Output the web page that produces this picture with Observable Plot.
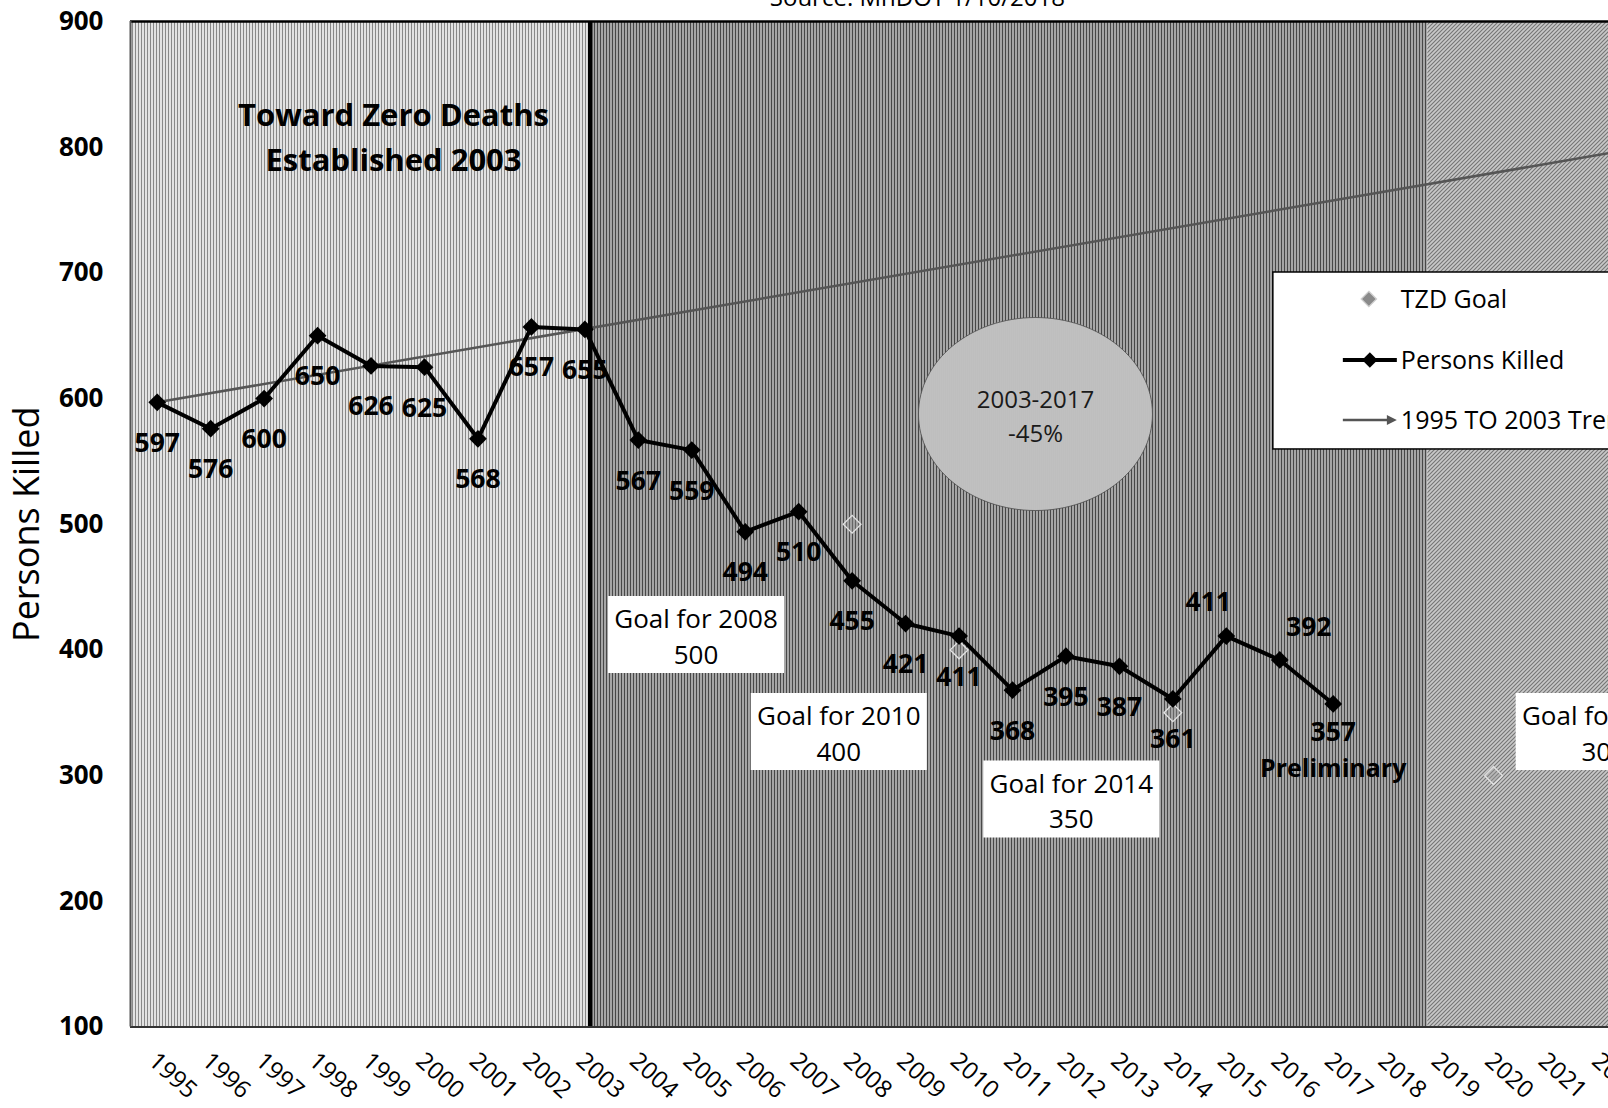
<!DOCTYPE html>
<html><head><meta charset="utf-8">
<script src="https://cdn.jsdelivr.net/npm/d3@7"></script>
<script src="https://cdn.jsdelivr.net/npm/@observablehq/plot@0.6"></script>
<style>
html,body{margin:0;padding:0;background:#fff;overflow:hidden;}
#chart{position:relative;width:1608px;height:1108px;overflow:hidden;}
#chart svg{display:block;}
</style></head><body><div id="chart"></div>
<script>
// ---- data ----
const years  = [1995,1996,1997,1998,1999,2000,2001,2002,2003,2004,2005,2006,2007,2008,2009,2010,2011,2012,2013,2014,2015,2016,2017];
const killed = [597,576,600,650,626,625,568,657,655,567,559,494,510,455,421,411,368,395,387,361,411,392,357];
const goalYears  = [2008,2010,2014,2020];
const goalValues = [500,400,350,300];
const goalTexts  = ["Goal for 2008\n500","Goal for 2010\n400","Goal for 2014\n350","Goal for 2020\n300"];
const goalBoxYears  = [2005.08,2007.75,2012.1,2022.06];
const goalBoxValues = [412.3,335.1,281.4,335.1];
const trendYears  = [1995,2025];
const trendValues = [597,816];
const tickYears = [1995,1996,1997,1998,1999,2000,2001,2002,2003,2004,2005,2006,2007,2008,2009,2010,2011,2012,2013,2014,2015,2016,2017,2018,2019,2020,2021,2022,2023];
const yTicks = [100,200,300,400,500,600,700,800,900];
const regionStarts = [1994.5,2003.1,2018.77];
const regionEnds   = [2003.1,2018.77,2030];
const tzdYear = [2003.1];
const titleNote = [{text:"Toward Zero Deaths\nEstablished 2003", year:1999.42, value:810.5}];
const ellipseNote = [{text:"2003-2017\n-45%", year:2011.43, value:587.7}];
const sourceNote = [{text:"Source: MnDOT 1/10/2018", year:2009.22}];
const legendAnchor = {year:2015.88, value:700.3, bottom:559.5};
const legendLabels = ["TZD Goal","Persons Killed","1995 TO 2003 Trend"];

// ---- tables ----
const killedData = years.map((y,i)=>({year:y, value:killed[i]}));
const goalData = goalYears.map((y,i)=>({year:y, value:goalValues[i]}));
const goalBoxes = goalTexts.map((t,i)=>({text:t, year:goalBoxYears[i], value:goalBoxValues[i]}));
const trendData = trendYears.map((y,i)=>({year:y, value:trendValues[i]}));
const regions = regionStarts.map((s,i)=>({start:s, end:regionEnds[i]}));
const regionFills = ["url(#pL)","url(#pM)","url(#pR)"];

const FONT = "'Open Sans', 'DejaVu Sans', sans-serif";
const ellipseSymbol = {draw(ctx){const rx=117,ry=96.5,k=0.5523;
  ctx.moveTo(rx,0); ctx.bezierCurveTo(rx,ry*k,rx*k,ry,0,ry); ctx.bezierCurveTo(-rx*k,ry,-rx,ry*k,-rx,0);
  ctx.bezierCurveTo(-rx,-ry*k,-rx*k,-ry,0,-ry); ctx.bezierCurveTo(rx*k,-ry,rx,-ry*k,rx,0); ctx.closePath();}};
const boxSymbol = {draw(ctx){ctx.rect(-88,-38.5,176,77);}};

const LBL = 26.5;
const normalLabels = killedData.filter(d=>d.year<=2014);
const chart = Plot.plot({
  width:1608, height:1108,
  marginLeft:130, marginRight:0, marginTop:21, marginBottom:81.5,
  x:{type:"linear", domain:[1994.5,2022.15], axis:null},
  y:{type:"linear", domain:[100,900], axis:null},
  color:{type:"identity"},
  style:{fontFamily:FONT, background:"#fff", color:"#000", overflow:"hidden"},
  marks:[
    Plot.rect(regions,{x1:"start",x2:"end",y1:()=>100,y2:()=>900,fill:(d,i)=>regionFills[i],clip:true}),
    Plot.dot(ellipseNote,{x:"year",y:"value",r:1,symbol:ellipseSymbol,fill:"url(#pE)",stroke:"#4a4a4a",strokeWidth:0.8}),
    Plot.text(ellipseNote,{x:"year",y:"value",text:"text",fontSize:24,lineHeight:1.42,fill:"#1a1a1a"}),
    Plot.line(trendData,{x:"year",y:"value",stroke:"#555",strokeWidth:2.5,clip:true}),
    Plot.dot(goalData,{x:"year",y:"value",symbol:"diamond2",r:8,fill:"#9a9a9a",fillOpacity:0.35,stroke:"#e2e2e2",strokeWidth:1.3,clip:true}),
    Plot.dot(goalBoxes,{x:"year",y:"value",r:1,symbol:boxSymbol,fill:"#fff",stroke:"none"}),
    Plot.text(goalBoxes,{x:"year",y:"value",text:"text",fontSize:26,lineHeight:1.38,fill:"#000"}),
    Plot.line(killedData,{x:"year",y:"value",stroke:"#000",strokeWidth:4}),
    Plot.dot(killedData,{x:"year",y:"value",symbol:"diamond2",r:8,fill:"#000"}),
    Plot.text(normalLabels,{x:"year",y:"value",text:d=>String(d.value),dy:41,fontSize:LBL,fontWeight:"bold"}),
    Plot.text(killedData.filter(d=>d.year===2015),{x:"year",y:"value",text:d=>String(d.value),dx:-18,dy:-34,fontSize:LBL,fontWeight:"bold"}),
    Plot.text(killedData.filter(d=>d.year===2016),{x:"year",y:"value",text:d=>String(d.value),dx:29,dy:-32,fontSize:LBL,fontWeight:"bold"}),
    Plot.text(killedData.filter(d=>d.year===2017),{x:"year",y:"value",text:d=>String(d.value),dy:29,fontSize:LBL,fontWeight:"bold"}),
    Plot.text(killedData.filter(d=>d.year===2017),{x:"year",y:"value",text:()=>"Preliminary",dy:65,fontSize:25,fontWeight:"bold"}),
    Plot.text(titleNote,{x:"year",y:"value",text:"text",fontSize:31,fontWeight:"bold",lineHeight:1.45}),
    Plot.ruleX(tzdYear,{stroke:"#000",strokeWidth:4.5}),
    Plot.ruleY([900],{stroke:"#000",strokeWidth:2.5}),
    Plot.ruleY([100],{stroke:"#333",strokeWidth:2}),
    Plot.ruleX([1994.5],{stroke:"#555",strokeWidth:2}),
    Plot.text(yTicks,{y:d=>d,text:d=>String(d),frameAnchor:"left",dx:-27,textAnchor:"end",fontSize:26,fontWeight:"bold"}),
    Plot.text(tickYears,{x:d=>d,text:d=>String(d),frameAnchor:"bottom",dx:-10,dy:36,rotate:42,textAnchor:"start",fontSize:24}),
    Plot.text(["Persons Killed"],{y:()=>500,text:d=>d,frameAnchor:"left",textAnchor:"middle",dx:-103,rotate:-90,fontSize:36}),
    Plot.text(sourceNote,{x:"year",text:"text",frameAnchor:"top",textAnchor:"middle",dy:-33,fontSize:24})
  ]
});

const svg = d3.select(chart);
svg.insert("defs",":first-child").html(`
<pattern id="pL" width="3" height="4" patternUnits="userSpaceOnUse"><rect width="3" height="4" fill="#e2e2e2"/><rect width="1" height="4" fill="#888"/></pattern>
<pattern id="pM" width="3" height="4" patternUnits="userSpaceOnUse"><rect width="3" height="4" fill="#a6a6a6"/><rect width="1" height="4" fill="#484848"/></pattern>
<pattern id="pR" width="4" height="4" patternUnits="userSpaceOnUse"><rect width="4" height="4" fill="#c8c8c8"/><path d="M-1,1 l2,-2 M0,4 l4,-4 M3,5 l2,-2" stroke="#747474" stroke-width="1.1"/></pattern>
<pattern id="pE" width="2" height="2" patternUnits="userSpaceOnUse"><rect width="2" height="2" fill="#d6d6d6"/><rect width="1" height="2" fill="#a8a8a8"/></pattern>`);

// legend inside plot, placed through the chart's own scales
const sx = chart.scale("x"), sy = chart.scale("y");
const lx = sx.apply(legendAnchor.year), ly = sy.apply(legendAnchor.value), lb = sy.apply(legendAnchor.bottom);
const lg = svg.append("g").attr("font-family",FONT).attr("font-size",25).attr("text-anchor","start");
lg.append("rect").attr("x",lx).attr("y",ly).attr("width",1608-lx+20).attr("height",lb-ly).attr("fill","#fff").attr("stroke","#000").attr("stroke-width",1.5);
const rowY = [27,88,148];
// TZD goal
lg.append("path").attr("d",d3.symbol(d3.symbolDiamond2, 150)()).attr("transform",`translate(${lx+96},${ly+rowY[0]})`).attr("fill","#8a8a8a").attr("stroke","#d0d0d0").attr("stroke-width",1.3);
// Persons killed
lg.append("line").attr("x1",lx+70).attr("x2",lx+124).attr("y1",ly+rowY[1]).attr("y2",ly+rowY[1]).attr("stroke","#000").attr("stroke-width",4);
lg.append("path").attr("d",d3.symbol(d3.symbolDiamond2, 150)()).attr("transform",`translate(${lx+97},${ly+rowY[1]})`).attr("fill","#000");
// Trend
lg.append("line").attr("x1",lx+70).attr("x2",lx+116).attr("y1",ly+rowY[2]).attr("y2",ly+rowY[2]).attr("stroke","#555").attr("stroke-width",2.5);
lg.append("path").attr("d",`M${lx+114},${ly+rowY[2]-5}L${lx+124},${ly+rowY[2]}L${lx+114},${ly+rowY[2]+5}Z`).attr("fill","#555");
legendLabels.forEach((t,i)=>{
  lg.append("text").attr("x",lx+128).attr("y",ly+rowY[i]).attr("dy","0.35em").text(t);
});

document.getElementById("chart").append(chart);
</script></body></html>
